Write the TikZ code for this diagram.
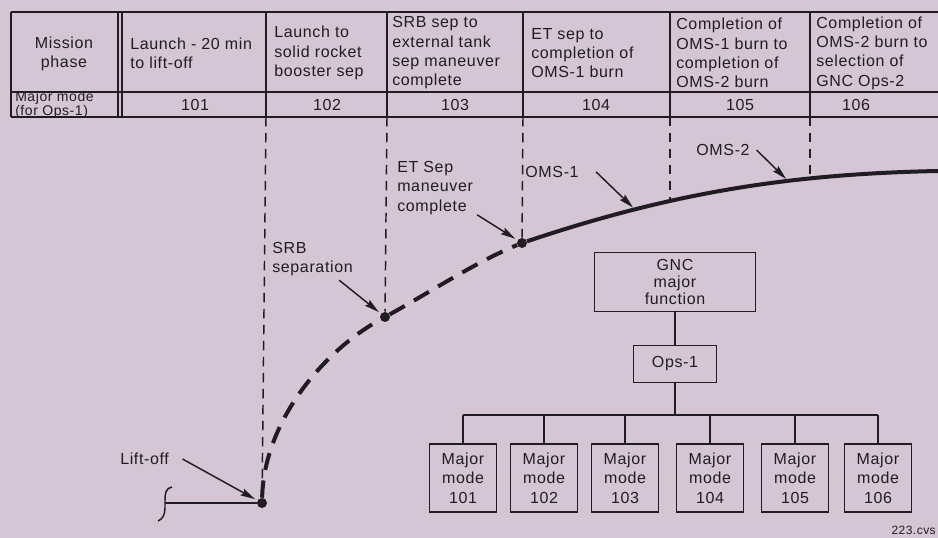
\documentclass[tikz,border=0pt]{standalone}
\usepackage{fontspec}
\setmainfont{Liberation Sans}[LetterSpace=4]
\usetikzlibrary{arrows.meta}
\definecolor{paper}{RGB}{212,198,212}
\definecolor{ink}{RGB}{32,28,34}

\begin{document}
\begin{tikzpicture}[x=0.75pt, y=-0.75pt, >={Stealth[length=11pt,width=5.5pt,inset=1.5pt]},
  every node/.style={text=ink, font=\fontsize{12}{14.5}\selectfont},
  cell/.style={align=left, anchor=west, inner sep=0pt},
  box/.style={draw=ink, line width=1.1pt, align=center, inner sep=2pt,
    font=\fontsize{12}{14.5}\selectfont},
  modebox/.style={box, minimum width=50pt, minimum height=51pt},
  rule/.style={draw=ink, line width=1.1pt},
  guide/.style={draw=ink, line width=1.1pt, dash pattern=on 7pt off 5pt},
  traj/.style={draw=ink, line width=3pt},
  pointer/.style={->, draw=ink, line width=1.1pt, shorten >=2pt},
  dot/.style={circle, fill=ink, inner sep=0pt, minimum size=7.5pt}]
  \useasboundingbox (0,0) rectangle (938,538);
  \fill[paper] (0,0) rectangle (938,538);

  % Table
  \draw[rule] (11,12) -- (938,12) (11,92) -- (938,92) (11,117) -- (938,117) (11,12) -- (11,117);
  \foreach \x [count=\i] in {118,122,266,387,523,670,810}
    \draw[rule] (\x,12) -- (\x,117) coordinate (col\i);
  \node[cell, align=center, anchor=center] (hdr1) at (64,54) {Mission\\phase};
  \foreach \x/\txt [count=\i from 2] in {130/{Launch - 20 min\\to lift-off},
      274/{Launch to\\solid rocket\\booster sep},
      392/{SRB sep to\\external tank\\sep maneuver\\complete},
      531/{ET sep to\\completion of\\OMS-1 burn},
      676/{Completion of\\OMS-1 burn to\\completion of\\OMS-2 burn},
      816/{Completion of\\OMS-2 burn to\\selection of\\GNC Ops-2}}
    \node[cell] (hdr\i) at (\x,53) {\txt};
  \node[cell, font=\fontsize{10.5}{10.5}\selectfont] (mmlabel) at (15,105) {Major mode\\(for Ops-1)};
  \foreach \x/\m in {195/101, 327/102, 455/103, 596/104, 740/105, 856/106}
    \node (mm\m) at (\x,105) {\m};

  % Ascent trajectory
  \node[dot] (liftoff) at (262,503) {};
  \node[dot] (srb) at (385,317) {};
  \node[dot] (etsep) at (522,243) {};
  \draw[rule] (liftoff) -- (165,503);
  \draw[rule] (172,487) .. controls (166,488) and (165,493) .. (165,500) -- (165,508)
    .. controls (165,514) and (163,519) .. (158,521);
  \draw[traj, dash pattern=on 13pt off 8pt] (liftoff) .. controls (264,420) and (325,350) .. (srb)
    .. controls (432,291) and (476,262) .. (etsep);
  \draw[traj] (etsep) .. controls (671,193) and (788,174) .. (938,171)
    coordinate[pos=0.26] (oms1tip) coordinate[pos=0.35] (g4end)
    coordinate[pos=0.645] (oms2tip) coordinate[pos=0.69] (g5end);

  % Phase guides
  \draw[guide] (col3) -- (liftoff);
  \draw[guide] (col4) -- (srb);
  \draw[guide] (col5) -- (etsep);
  \draw[guide] (col6) -- (col6 |- g4end);
  \draw[guide] (col7) -- (col7 |- g5end);

  % Event labels
  \node[cell] (liftlbl) at (120,459) {Lift-off};
  \draw[pointer] ([xshift=10pt]liftlbl.east) -- (liftoff);
  \node[cell] (srblbl) at (272,259) {SRB\\separation};
  \draw[pointer] ([xshift=20pt,yshift=-3pt]srblbl.south) -- (srb);
  \node[cell] (etlbl) at (397,188) {ET Sep\\maneuver\\complete};
  \draw[pointer] ([xshift=3pt]etlbl.south east) -- (etsep);
  \node[cell, anchor=center] (oms1lbl) at (552,172) {OMS-1};
  \draw[pointer] ([xshift=13pt]oms1lbl.east) -- (oms1tip);
  \node[cell, anchor=center] (oms2lbl) at (723,150) {OMS-2};
  \draw[pointer] ([xshift=5pt]oms2lbl.east) -- (oms2tip);

  % GNC hierarchy
  \node[box, minimum width=121pt, minimum height=44pt, font=\fontsize{12}{12.75}\selectfont]
    (gnc) at (675,282) {GNC\\major\\function};
  \node[box, minimum width=62pt, minimum height=28pt] (ops) at (675,364) {Ops-1};
  \coordinate (bus) at (675,415);
  \draw[rule] (gnc) -- (ops);
  \draw[rule] (ops) -- (bus);
  \foreach \x/\m in {463/101, 544/102, 625/103, 710/104, 795/105, 878/106} {
    \node[modebox] (m\m) at (\x,478) {Major\\mode\\\m};
    \draw[rule] (m\m) -- (m\m.north |- bus);
  }
  \draw[rule] (m101.north |- bus) -- (m106.north |- bus);

  \node[cell, anchor=east, font=\fontsize{9}{9}\selectfont] (figno) at (936,530) {223.cvs};
\end{tikzpicture}
\end{document}
